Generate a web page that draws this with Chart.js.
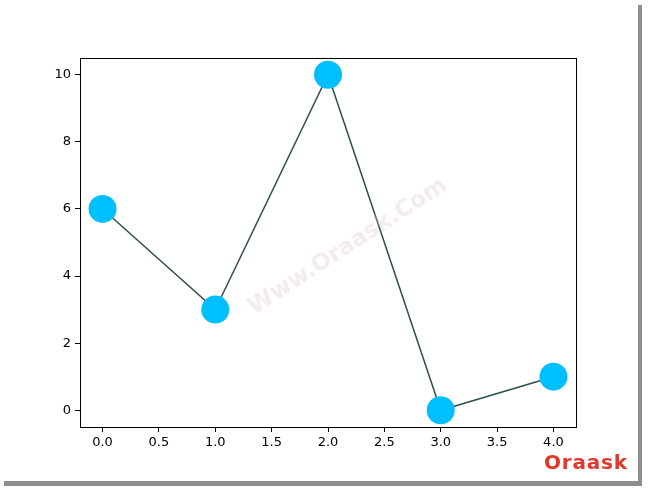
<!DOCTYPE html>
<html>
<head>
<meta charset="utf-8">
<script src="https://cdn.jsdelivr.net/npm/chart.js@4.4.0/dist/chart.umd.min.js"></script>
<style>
  body { margin: 0; background: #fff; }
  #marco {
    position: absolute; left: 0; top: 0; width: 638px; height: 481px;
    background: #fff; box-shadow: 4px 5px 0 #8e8e8e;
  }
  #lienzo { position: absolute; left: 0; top: 0; width: 655px; height: 495px; }
  #marca {
    position: absolute; left: 222px; top: 232px; width: 250px; text-align: center;
    font: bold 23px "DejaVu Sans", sans-serif; color: rgba(215, 185, 185, 0.28);
    transform: rotate(-33deg); white-space: nowrap;
  }
  #logo {
    position: absolute; left: 544px; top: 450px; line-height: 20px;
    font: bold 20px "DejaVu Sans", sans-serif; color: #e2372b; letter-spacing: 0.8px;
  }
</style>
</head>
<body>
<div id="marco"></div>
<div id="lienzo"><canvas id="grafica" width="655" height="495"></canvas></div>
<div id="marca">Www.Oraask.Com</div>
<div id="logo">Oraask</div>
<script>
const valoresX = [0, 1, 2, 3, 4];
const valoresY = [6, 3, 10, 0, 1];
const ticksX = [0, 0.5, 1, 1.5, 2, 2.5, 3, 3.5, 4];
const ticksY = [0, 2, 4, 6, 8, 10];

const puntos = valoresX.map((x, i) => ({ x: x, y: valoresY[i] }));

// marco negro alrededor del area del grafico (como matplotlib)
const bordeArea = {
  id: 'bordeArea',
  afterDraw(chart) {
    const a = chart.chartArea;
    const c = chart.ctx;
    c.save();
    c.strokeStyle = '#000';
    c.lineWidth = 1;
    c.strokeRect(Math.round(a.left) + 0.5, Math.round(a.top) + 0.5,
      Math.round(a.right - a.left), Math.round(a.bottom - a.top));
    c.restore();
  }
};

const fuente = { family: '"DejaVu Sans", sans-serif', size: 13 };

const ctx = document.getElementById('grafica').getContext('2d');
const chart = new Chart(ctx, {
  type: 'line',
  data: {
    datasets: [{
      data: puntos,
      borderColor: '#2f4f4f',
      borderWidth: 1.5,
      pointRadius: 14,
      pointHoverRadius: 14,
      pointBackgroundColor: '#00bfff',
      pointBorderWidth: 0,
      tension: 0,
      clip: false
    }]
  },
  options: {
    responsive: false,
    animation: false,
    events: [],
    layout: { padding: { left: 0, top: 58, right: 79, bottom: 0 } },
    plugins: { legend: { display: false }, tooltip: { enabled: false } },
    scales: {
      x: {
        type: 'linear', min: -0.2, max: 4.2,
        afterBuildTicks: (s) => { s.ticks = ticksX.map(v => ({ value: v })); },
        afterFit: (s) => { s.height = 68; },
        grid: { drawOnChartArea: false, tickLength: 5, tickColor: '#000', lineWidth: 1 },
        border: { display: true, color: '#000', width: 1 },
        ticks: { color: '#000', font: fuente, padding: 3, maxRotation: 0,
          callback: (v) => Number(v).toFixed(1) }
      },
      y: {
        type: 'linear', min: -0.5, max: 10.5,
        afterBuildTicks: (s) => { s.ticks = ticksY.map(v => ({ value: v })); },
        afterFit: (s) => { s.width = 80; },
        grid: { drawOnChartArea: false, tickLength: 5, tickColor: '#000', lineWidth: 1 },
        border: { display: true, color: '#000', width: 1 },
        ticks: { color: '#000', font: fuente, padding: 4,
          callback: (v) => String(v) }
      }
    }
  },
  plugins: [bordeArea]
});
</script>
</body>
</html>
